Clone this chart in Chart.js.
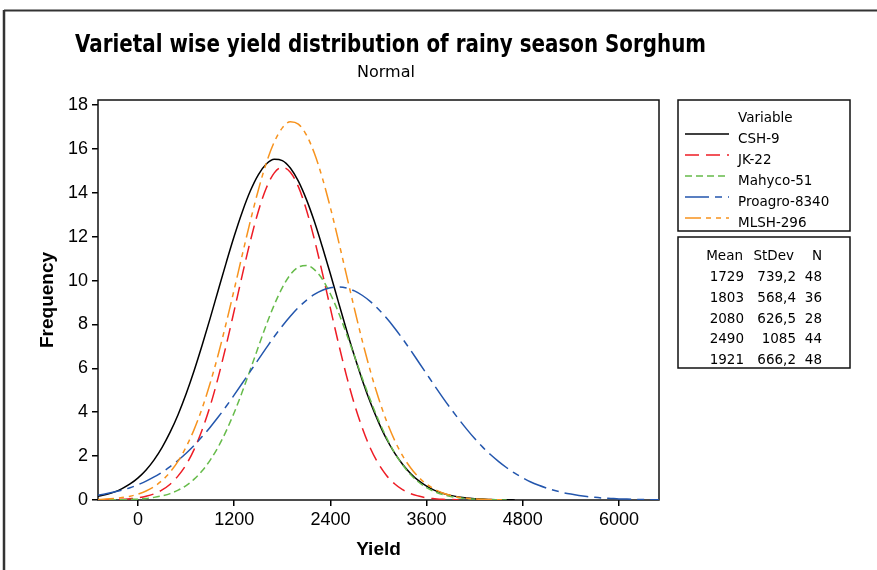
<!DOCTYPE html>
<html>
<head>
<meta charset="utf-8">
<script src="https://cdn.jsdelivr.net/npm/chart.js@4.4.0/dist/chart.umd.min.js"></script>
<style>
  body { margin: 0; background: #fff; }
  #wrap { position: relative; width: 877px; height: 570px; overflow: hidden; background: #fff; }
  #chart { position: absolute; left: 0; top: 0; }
  #over { position: absolute; left: 0; top: 0; pointer-events: none; }
  #over text { font-family: "DejaVu Sans", sans-serif; fill: #000; }
</style>
</head>
<body>
<div id="wrap">
  <canvas id="chart" width="877" height="570"></canvas>
  <svg id="over" width="877" height="570"></svg>
</div>
<script>
const yieldPts = [
  -500, -400, -300, -200, -100, 0, 100, 200, 300, 400,
  500, 600, 700, 800, 900, 1000, 1100, 1200, 1300, 1400,
  1500, 1600, 1700, 1800, 1900, 2000, 2100, 2200, 2300, 2400,
  2500, 2600, 2700, 2800, 2900, 3000, 3100, 3200, 3300, 3400,
  3500, 3600, 3700, 3800, 3900, 4000, 4100, 4200, 4300, 4400,
  4500, 4600, 4700, 4800, 4900, 5000, 5100, 5200, 5300, 5400,
  5500, 5600, 5700, 5800, 5900, 6000, 6100, 6200, 6300, 6400, 6500
];

const csh9 = [
  0.17, 0.25, 0.36, 0.52, 0.73, 1.01, 1.37, 1.83, 2.40, 3.09,
  3.90, 4.84, 5.90, 7.06, 8.29, 9.56, 10.82, 12.03, 13.13, 14.08,
  14.82, 15.31, 15.53, 15.47, 15.13, 14.53, 13.70, 12.69, 11.53, 10.30,
  9.02, 7.76, 6.56, 5.44, 4.43, 3.55, 2.78, 2.15, 1.63, 1.21,
  0.88, 0.63, 0.44, 0.31, 0.21, 0.14, 0.09, 0.06, 0.04, 0.02,
  0.01, 0.01, 0.005, null, null, null, null, null, null, null,
  null, null, null, null, null, null, null, null, null, null, null
];
const jk22 = [
  0.004, 0.01, 0.02, 0.03, 0.06, 0.10, 0.17, 0.28, 0.46, 0.72,
  1.10, 1.61, 2.31, 3.20, 4.29, 5.59, 7.06, 8.64, 10.25, 11.79,
  13.15, 14.22, 14.91, 15.16, 14.94, 14.28, 13.23, 11.88, 10.34, 8.73,
  7.15, 5.67, 4.36, 3.26, 2.35, 1.65, 1.12, 0.74, 0.47, 0.29,
  0.18, 0.10, 0.06, 0.03, 0.02, 0.01, null, null, null, null,
  null, null, null, null, null, null, null, null, null, null,
  null, null, null, null, null, null, null, null, null, null, null
];
const mahyco51 = [
  0.002, 0.004, 0.01, 0.01, 0.03, 0.04, 0.07, 0.12, 0.19, 0.29,
  0.45, 0.66, 0.95, 1.33, 1.82, 2.42, 3.15, 3.99, 4.93, 5.94,
  6.97, 7.98, 8.90, 9.68, 10.27, 10.61, 10.69, 10.50, 10.06, 9.39,
  8.55, 7.58, 6.56, 5.53, 4.54, 3.64, 2.84, 2.16, 1.61, 1.16,
  0.82, 0.56, 0.38, 0.25, 0.16, 0.10, 0.06, 0.04, 0.02, 0.01,
  0.006, 0.003, null, null, null, null, null, null, null, null,
  null, null, null, null, null, null, null, null, null, null, null
];
const proagro8340 = [
  0.22, 0.28, 0.36, 0.45, 0.56, 0.70, 0.86, 1.05, 1.27, 1.52,
  1.81, 2.13, 2.49, 2.89, 3.32, 3.78, 4.27, 4.79, 5.32, 5.86,
  6.40, 6.93, 7.45, 7.93, 8.37, 8.77, 9.10, 9.37, 9.56, 9.67,
  9.71, 9.66, 9.53, 9.32, 9.04, 8.69, 8.29, 7.84, 7.35, 6.83,
  6.29, 5.75, 5.21, 4.68, 4.17, 3.69, 3.23, 2.80, 2.41, 2.06,
  1.75, 1.47, 1.22, 1.01, 0.82, 0.67, 0.54, 0.43, 0.34, 0.27,
  0.21, 0.16, 0.12, 0.09, 0.07, 0.05, 0.04, 0.03, 0.02, 0.015, 0.01
];
const mlsh296 = [
  0.02, 0.04, 0.07, 0.11, 0.17, 0.27, 0.41, 0.61, 0.89, 1.27,
  1.77, 2.42, 3.22, 4.19, 5.33, 6.63, 8.07, 9.60, 11.17, 12.70,
  14.12, 15.36, 16.32, 16.96, 17.24, 17.13, 16.64, 15.80, 14.67, 13.32,
  11.82, 10.26, 8.71, 7.22, 5.86, 4.65, 3.60, 2.73, 2.02, 1.47,
  1.04, 0.72, 0.49, 0.32, 0.21, 0.13, 0.08, 0.05, 0.03, 0.02,
  0.01, 0.005, null, null, null, null, null, null, null, null,
  null, null, null, null, null, null, null, null, null, null, null
];

const varieties = ['CSH-9', 'JK-22', 'Mahyco-51', 'Proagro-8340', 'MLSH-296'];
const means = ['1729', '1803', '2080', '2490', '1921'];
const stdevs = ['739,2', '568,4', '626,5', '1085', '666,2'];
const counts = ['48', '36', '28', '44', '48'];

const xTicks = [0, 1200, 2400, 3600, 4800, 6000];
const yTicks = [0, 2, 4, 6, 8, 10, 12, 14, 16, 18];

const colors = ['#000000', '#ee1c25', '#66bb4a', '#2356ad', '#f7931e'];
const dashes = [[], [14, 7], [7, 4], [24, 6, 7, 6], [16, 5, 5, 5, 5, 5]];
const series = [csh9, jk22, mahyco51, proagro8340, mlsh296];

const datasets = series.map((vals, i) => ({
    label: varieties[i],
    data: yieldPts.map((x, j) => ({ x: x, y: vals[j] })),
    borderColor: colors[i],
    borderWidth: 1.5,
    borderDash: dashes[i],
    pointRadius: 0,
    fill: false,
    spanGaps: false,
    cubicInterpolationMode: 'monotone',
    order: 5 - i
}));

// plot frame drawn under the curves
const framePlugin = {
    id: 'frame',
    beforeDatasetsDraw(chart) {
        const a = chart.chartArea;
        const c = chart.ctx;
        c.save();
        c.strokeStyle = '#111';
        c.lineWidth = 1.5;
        c.strokeRect(a.left, a.top, a.right - a.left, a.bottom - a.top);
        c.restore();
    }
};

const tickFont = { family: '"Liberation Sans", Arial, sans-serif', size: 18 };
const titleFont = { family: '"Liberation Sans", Arial, sans-serif', size: 19, weight: 'bold' };

new Chart(document.getElementById('chart').getContext('2d'), {
    type: 'line',
    data: { datasets: datasets },
    options: {
        responsive: false,
        devicePixelRatio: 1,
        animation: false,
        layout: { padding: { left: 36, right: 218, top: 100, bottom: 0 } },
        plugins: { legend: { display: false }, tooltip: { enabled: false } },
        scales: {
            x: {
                type: 'linear',
                min: -500,
                max: 6500,
                afterBuildTicks: s => { s.ticks = xTicks.map(v => ({ value: v })); },
                afterFit: s => { s.height = 70; },
                ticks: { color: '#000', font: tickFont, padding: 3, maxRotation: 0, callback: v => String(v) },
                grid: { drawOnChartArea: false, drawTicks: true, tickLength: 6, color: '#000', lineWidth: 1.5 },
                border: { display: false },
                title: { display: true, text: 'Yield', color: '#000', font: titleFont, padding: { top: 0, bottom: 9 } }
            },
            y: {
                min: 0,
                max: 18.23,
                afterBuildTicks: s => { s.ticks = yTicks.map(v => ({ value: v })); },
                afterFit: s => { s.width = 62; },
                ticks: { color: '#000', font: tickFont, padding: 4, callback: v => String(v) },
                grid: { drawOnChartArea: false, drawTicks: true, tickLength: 6, color: '#000', lineWidth: 1.5 },
                border: { display: false },
                title: { display: true, text: 'Frequency', color: '#000', font: titleFont, padding: { top: 0, bottom: 0 } }
            }
        }
    },
    plugins: [framePlugin]
});

// title, legend and statistics table as svg text
const NS = 'http://www.w3.org/2000/svg';
const svg = document.getElementById('over');
function add(tag, attrs, txt) {
    const el = document.createElementNS(NS, tag);
    for (const k in attrs) el.setAttribute(k, attrs[k]);
    if (txt !== undefined) el.textContent = txt;
    svg.appendChild(el);
    return el;
}

// outer picture border
add('line', { x1: 4, y1: 10.5, x2: 877, y2: 10.5, stroke: '#333', 'stroke-width': 2 });
add('line', { x1: 4, y1: 10, x2: 4, y2: 570, stroke: '#333', 'stroke-width': 2.5 });

add('text', { x: 75, y: 52, 'font-size': 25, 'font-weight': 'bold', textLength: 631, lengthAdjust: 'spacingAndGlyphs' },
    'Varietal wise yield distribution of rainy season Sorghum');
add('text', { x: 386, y: 77, 'font-size': 16, 'text-anchor': 'middle' }, 'Normal');

add('rect', { x: 678, y: 100, width: 172, height: 131, fill: 'none', stroke: '#111', 'stroke-width': 1.5 });
add('rect', { x: 678, y: 237, width: 172, height: 131, fill: 'none', stroke: '#111', 'stroke-width': 1.5 });

add('text', { x: 738, y: 122, 'font-size': 13.5 }, 'Variable');
const rowY = [143, 164, 185, 206, 227];
varieties.forEach((name, i) => {
    add('line', {
        x1: 685, y1: rowY[i] - 9, x2: 729, y2: rowY[i] - 9,
        stroke: colors[i], 'stroke-width': 1.5,
        'stroke-dasharray': dashes[i].length ? dashes[i].join(' ') : 'none'
    });
    add('text', { x: 738, y: rowY[i], 'font-size': 13.5 }, name);
});

add('text', { x: 743, y: 260, 'font-size': 13.5, 'text-anchor': 'end' }, 'Mean');
add('text', { x: 794, y: 260, 'font-size': 13.5, 'text-anchor': 'end' }, 'StDev');
add('text', { x: 822, y: 260, 'font-size': 13.5, 'text-anchor': 'end' }, 'N');
const tabY = [281, 302, 323, 343, 364];
means.forEach((m, i) => {
    add('text', { x: 744, y: tabY[i], 'font-size': 13.5, 'text-anchor': 'end' }, m);
    add('text', { x: 796, y: tabY[i], 'font-size': 13.5, 'text-anchor': 'end' }, stdevs[i]);
    add('text', { x: 822, y: tabY[i], 'font-size': 13.5, 'text-anchor': 'end' }, counts[i]);
});
</script>
</body>
</html>
